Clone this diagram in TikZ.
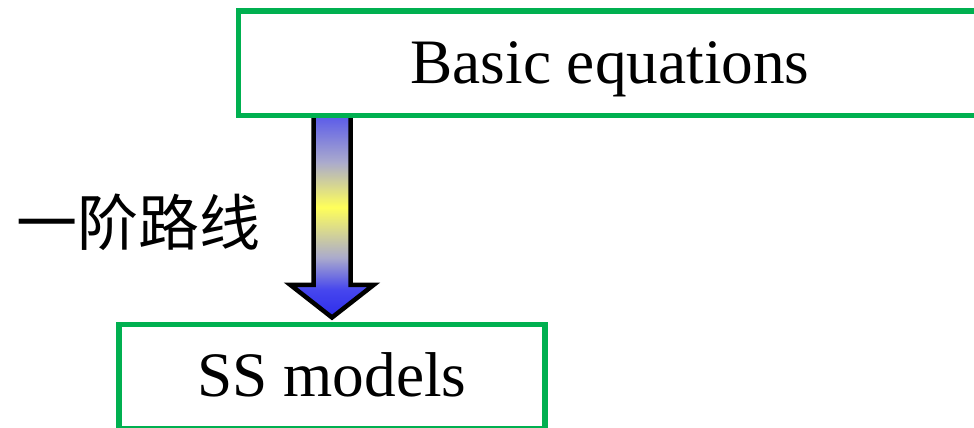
\documentclass[tikz,border=0pt]{standalone}
\usepackage{fontspec}
\setmainfont{Liberation Serif}
\newfontfamily\cjk{Noto Sans CJK SC}
\usepackage{xcolor}
\usetikzlibrary{positioning,calc}
\definecolor{boxGreen}{RGB}{0,176,80}
\definecolor{arrowTop}{RGB}{95,95,232}
\definecolor{arrowLav}{RGB}{170,170,205}
\definecolor{arrowYellow}{RGB}{255,255,90}
\definecolor{arrowBlue}{RGB}{70,70,238}
\definecolor{arrowTip}{RGB}{45,45,235}
\pgfdeclareverticalshading{arrowfade}{100bp}{color(0bp)=(arrowTip); color(25bp)=(arrowTip);
  color(32bp)=(arrowBlue); color(40bp)=(arrowLav); color(52.7bp)=(arrowYellow);
  color(64bp)=(arrowLav); color(75bp)=(arrowTop); color(100bp)=(arrowTop)}

\begin{document}
\begin{tikzpicture}[x=1pt,y=1pt,
  greenbox/.style={draw=boxGreen,line width=5.5pt,fill=white,inner sep=0pt,
    minimum height=104.5pt,text height=44pt,text depth=4pt,font=\fontsize{63.3}{76}\selectfont},
  fatarrow/.style={draw=black,line width=4.5pt,line join=miter,shading=arrowfade}]
  \useasboundingbox (0,0) rectangle (974,428);
  \clip (0,0) rectangle (974,428);
  \node[greenbox,minimum width=743.5pt] (basic) at (610,364.75) {Basic equations};
  \node[greenbox,minimum width=426pt] (ss) at (332,51.25) {SS models};
  % arrow from top box down to bottom box
  \coordinate (tip) at ($(ss.north)+(0,4.25)$);
  \coordinate (root) at (basic.south -| tip);
  \path[fatarrow] ($(root)+(-18.5,0)$) -- ($(tip)+(-18.5,32.5)$) -- ($(tip)+(-41.5,32.5)$)
    -- (tip) -- ($(tip)+(41.5,32.5)$) -- ($(tip)+(18.5,32.5)$) -- ($(root)+(18.5,0)$);
  \coordinate (shaftmid) at ($(root)+(-18.5,-103.75)$);
  \node[inner sep=0pt,left=53pt of shaftmid,font=\cjk\fontsize{61}{70}\selectfont] (route) {一阶路线};
\end{tikzpicture}
\end{document}
